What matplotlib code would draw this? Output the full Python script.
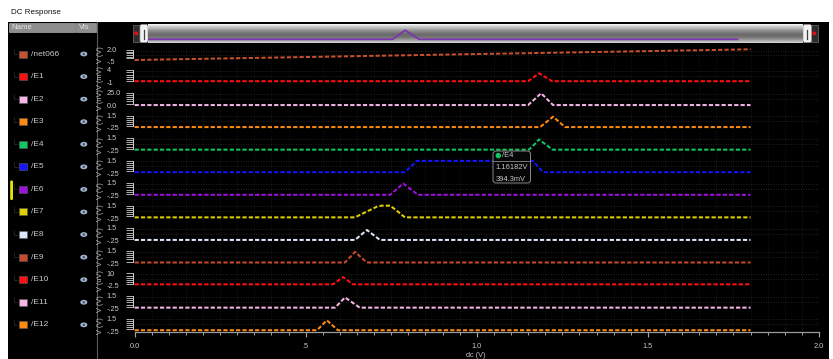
import numpy as np
import matplotlib
matplotlib.use("Agg")
import matplotlib.pyplot as plt
import matplotlib.transforms as mtransforms
from matplotlib.patches import Rectangle, FancyBboxPatch, Ellipse, Circle
from matplotlib.ticker import FixedLocator, MultipleLocator

plt.rcParams['font.family'] = ['Liberation Sans', 'DejaVu Sans']

# ---------------------------------------------------------------- data
names = ["/net066", "/E1", "/E2", "/E3", "/E4", "/E5", "/E6",
         "/E7", "/E8", "/E9", "/E10", "/E11", "/E12"]
colors = ["#c8502e", "#ff1010", "#f5b5e6", "#ff8a10", "#10c860", "#1414ff",
          "#a010e0", "#e0d000", "#dde8f8", "#c84a2c", "#ff1010", "#f5b5e6",
          "#ff8a10"]
units = ["V (V)", "V (mV)", "V (nV)", "V (V)", "V (V)", "V (V)", "V (V)",
         "V (V)", "V (V)", "V (V)", "V (uV)", "V (V)", "V (V)"]
tick_lo = [-0.5, -1.0, 0.0, -0.25, -0.25, -0.25, -0.25,
           -0.25, -0.25, -0.25, -2.5, -0.25, -0.25]
tick_hi = [2.0, 4.0, 25.0, 1.5, 1.5, 1.5, 1.5,
           1.5, 1.5, 1.5, 10.0, 1.5, 1.5]
tick_lo_text = ["-.5", "-1", "0.0", "-.25", "-.25", "-.25", "-.25",
                "-.25", "-.25", "-.25", "-2.5", "-.25", "-.25"]
tick_hi_text = ["2.0", "4", "25.0", "1.5", "1.5", "1.5", "1.5",
                "1.5", "1.5", "1.5", "10", "1.5", "1.5"]

net066_x = [0.0, 0.45, 0.9, 1.35, 1.8]
net066_y = [0.06, 0.62, 1.18, 1.73, 2.29]
E1_x = [0.0, 1.150, 1.182, 1.220, 1.8]
E1_y = [0.0, 0.0, 3.1, 0.0, 0.0]
E2_x = [0.0, 1.150, 1.188, 1.223, 1.8]
E2_y = [2.5, 2.5, 25.5, 2.5, 2.5]
E3_x = [0.0, 1.185, 1.223, 1.258, 1.8]
E3_y = [0.0, 0.0, 1.42, 0.0, 0.0]
E4_mark_x, E4_mark_y = 1.16182, 0.3943
E4_x = [0.0, 1.152, E4_mark_x, 1.182, 1.221, 1.8]
E4_y = [0.0, 0.0, E4_mark_y, 1.40, 0.0, 0.0]
E5_x = [0.0, 0.790, 0.825, 1.164, 1.194, 1.8]
E5_y = [0.0, 0.0, 1.55, 1.55, 0.0, 0.0]
E6_x = [0.0, 0.747, 0.785, 0.828, 1.8]
E6_y = [0.0, 0.0, 1.55, 0.0, 0.0]
E7_x = [0.0, 0.644, 0.678, 0.708, 0.722, 0.747, 0.766, 0.790, 1.8]
E7_y = [0.0, 0.0, 0.78, 1.46, 1.6, 1.6, 0.92, 0.0, 0.0]
E8_x = [0.0, 0.644, 0.679, 0.717, 1.8]
E8_y = [0.0, 0.0, 1.36, 0.0, 0.0]
E9_x = [0.0, 0.615, 0.644, 0.679, 1.8]
E9_y = [0.0, 0.0, 1.45, 0.0, 0.0]
E10_x = [0.0, 0.580, 0.609, 0.638, 1.8]
E10_y = [0.0, 0.0, 7.1, 0.0, 0.0]
E11_x = [0.0, 0.586, 0.615, 0.658, 1.8]
E11_y = [0.0, 0.0, 1.4, 0.0, 0.0]
E12_x = [0.0, 0.533, 0.562, 0.594, 1.8]
E12_y = [0.0, 0.0, 1.35, 0.0, 0.0]

traces_x = [net066_x, E1_x, E2_x, E3_x, E4_x, E5_x, E6_x,
            E7_x, E8_x, E9_x, E10_x, E11_x, E12_x]
traces_y = [net066_y, E1_y, E2_y, E3_y, E4_y, E5_y, E6_y,
            E7_y, E8_y, E9_y, E10_y, E11_y, E12_y]

x_ticks = [0.0, 0.5, 1.0, 1.5, 2.0]
x_tick_text = ["0.0", ".5", "1.0", "1.5", "2.0"]
x_label = "dc (V)"
selected = 6  # trace shown in the overview strip

# ---------------------------------------------------------------- layout
W, H = 833, 359
fig = plt.figure(figsize=(W / 100, H / 100), dpi=100)
fig.patch.set_facecolor("white")


def px_axes(x0, y0, x1, y1, z=1):
    ax = fig.add_axes([x0 / W, 1 - y1 / H, (x1 - x0) / W, (y1 - y0) / H])
    ax.set_zorder(z)
    return ax


bg = px_axes(0, 0, W, H, z=0)
bg.set_xlim(0, W)
bg.set_ylim(H, 0)
bg.axis("off")

TXT = "#c8c8c8"
# window title and panes
bg.add_patch(Rectangle((0, 0), W, 22, facecolor="white", edgecolor="none"))
bg.text(11, 13, "DC Response", fontsize=5.8, color="#101010", va="center")
bg.add_patch(Rectangle((8, 22), 89, H - 22, facecolor="black", edgecolor="none"))
bg.add_patch(Rectangle((97, 22), 732, H - 22, facecolor="black", edgecolor="none"))
bg.add_patch(Rectangle((9, 22.5), 66.5, 9.5, facecolor="#8e8e8e", edgecolor="#a8a8a8", lw=0.5))
bg.add_patch(Rectangle((76, 22.5), 20.5, 9.5, facecolor="#8e8e8e", edgecolor="#a8a8a8", lw=0.5))
bg.text(11, 27.3, "Name", fontsize=5.6, color="#e4e4e4", va="center")
bg.text(79, 27.3, "Vis", fontsize=5.6, color="#e4e4e4", va="center")
bg.plot([97, 97], [22, H], color="#5c5c5c", lw=0.8)

X0_PX, X1_PX = 132.5, 819.0
XMIN, XMAX = -0.006, 2.0
TOP0, PITCH = 44.9, 22.57
AXIS_Y = 332.0
label_offsets = [(5.8, 17.8)] + [(3.5, 16.3)] * 12

# overview / scroll bar
sb = px_axes(148, 24, 803, 43, z=2)
grad = np.array([0.95, 0.84, 0.76, 0.70, 0.62, 0.55, 0.49, 0.45, 0.42,
                 0.43, 0.47, 0.53, 0.60, 0.70, 0.82])[:, None]
sb.imshow(grad, cmap="gray", vmin=0, vmax=1, aspect="auto",
          extent=[0, 2.0, -0.63, 2.61], origin="upper", zorder=0)
sb.plot(traces_x[selected], traces_y[selected], color="#7b35b0", lw=1.3, zorder=2)
sb.set_xlim(0, 2.0)
sb.set_ylim(-0.63, 2.61)
sb.axis("off")
for (x0, w) in [(133, 7), (811, 7)]:
    bg.add_patch(Rectangle((x0, 25), w, 17, facecolor="#2c2c2c", edgecolor="#707070", lw=0.5))
for (x0, w) in [(140, 8), (803, 8.5)]:
    bg.add_patch(FancyBboxPatch((x0, 24.5), w, 18, boxstyle="round,pad=0,rounding_size=2",
                                facecolor="#f2f2f2", edgecolor="#9a9a9a", lw=0.5, zorder=3))
    bg.plot([x0 + w / 2, x0 + w / 2], [29.5, 38.5], color="#404040", lw=0.9, zorder=4)
bg.add_patch(Circle((136.3, 33.4), 1.3, color="#e01010", zorder=4))
bg.add_patch(Circle((814.3, 33.4), 1.3, color="#e01010", zorder=4))

for i in range(13):
    top = TOP0 + PITCH * i
    bot = min(top + PITCH, AXIS_Y)
    ax = px_axes(X0_PX, top, X1_PX, bot, z=1)
    ax.set_facecolor("none")
    hi_off, lo_off = label_offsets[i]
    lo, hi = tick_lo[i], tick_hi[i]
    s = (lo_off - hi_off) / (hi - lo)
    ax.set_ylim(lo - (bot - top - lo_off) / s, hi + hi_off / s)
    ax.set_xlim(XMIN, XMAX)
    for sp in ["top", "right", "bottom"]:
        ax.spines[sp].set_visible(False)
    # ruler of short ticks
    v_ruler_lo = hi - (13.5 - hi_off) / s
    ruler = list(np.linspace(v_ruler_lo, hi + 0.6 / s, 6))
    ax.spines["left"].set_bounds(v_ruler_lo, hi + 0.6 / s)
    ax.spines["left"].set_color("#d0d0d0")
    ax.spines["left"].set_linewidth(0.7)
    ax.yaxis.set_major_locator(FixedLocator([]))
    ax.yaxis.set_minor_locator(FixedLocator(ruler))
    ax.tick_params(axis="y", which="minor", length=5.2, width=0.6, color="#d0d0d0")
    ax.set_xticks([])
    # faint background grid
    for gv in [hi, (hi + v_ruler_lo) / 2]:
        ax.axhline(gv, color="#2c2c2c", lw=0.6, ls=(0, (1, 2)), zorder=0)
    ax.plot(traces_x[i], traces_y[i], color=colors[i], lw=1.45,
            ls=(0, (2.1, 1.05)), zorder=3)
    tr = mtransforms.blended_transform_factory(bg.transData, ax.transData)
    bg.text(106.5, hi, tick_hi_text[i], transform=tr, fontsize=5.3, color=TXT,
            ha="left", va="center")
    t_lo = bg.text(106.5, lo, tick_lo_text[i], transform=tr, fontsize=5.3, color=TXT,
                   ha="left", va="center")
    t_lo.set_clip_path(Rectangle((0, 0), W, AXIS_Y, transform=bg.transData))
    # unit label, left list entry
    yc = TOP0 + PITCH * i + 10
    bg.text(100.3, yc, units[i], fontsize=5.3, color="#b8b8b8", rotation=90,
            ha="center", va="center")
    yr = TOP0 + PITCH * i + 9.1
    bg.plot([14, 14, 18], [yr - 5, yr, yr], color="#5a5a5a", lw=0.5, ls=(0, (1, 1)))
    bg.add_patch(Rectangle((19, yr - 3.5), 8, 7, facecolor=colors[i],
                           edgecolor="#5a5a5a", lw=0.4))
    bg.text(31.5, yr, names[i], fontsize=6, color=TXT, va="center")
    bg.add_patch(Ellipse((83.8, yr), 7, 4.8, facecolor="#a4b8d2", edgecolor="none"))
    bg.add_patch(Circle((83.8, yr), 1.3, facecolor="#4a5a72", edgecolor="none"))

# selection marker
bg.add_patch(FancyBboxPatch((10.2, 180.5), 2.8, 19.5, boxstyle="round,pad=0,rounding_size=1.2",
                            facecolor="#e8e400", edgecolor="none"))

# common x axis
xa = px_axes(X0_PX, TOP0, X1_PX, AXIS_Y, z=0.5)
xa.set_facecolor("none")
xa.set_xlim(XMIN, XMAX)
xa.set_yticks([])
for sp in ["top", "right", "left"]:
    xa.spines[sp].set_visible(False)
xa.spines["bottom"].set_color("#9a9a9a")
xa.spines["bottom"].set_linewidth(0.9)
xa.spines["bottom"].set_bounds(0, 2.0)
xa.set_xticks(x_ticks)
xa.set_xticklabels(x_tick_text)
xa.xaxis.set_minor_locator(MultipleLocator(0.05))
xa.tick_params(axis="x", which="major", length=3.6, width=0.8, color="#a8a8a8",
               labelsize=5.3, labelcolor=TXT, pad=4.3)
xa.tick_params(axis="x", which="minor", length=2.4, width=0.7, color="#a8a8a8")
xa.grid(True, which="minor", axis="x", color="#202020", lw=0.5, ls=(0, (1, 2)))
xa.set_xlabel(x_label, fontsize=5.3, color=TXT, labelpad=1.2)

# cursor readout
top_ax = px_axes(0, 0, W, H, z=5)
top_ax.set_xlim(0, W)
top_ax.set_ylim(H, 0)
top_ax.axis("off")
top_ax.add_patch(FancyBboxPatch((493, 151), 37.5, 32, boxstyle="round,pad=0,rounding_size=3",
                                facecolor="#060606", edgecolor="#8a8a8a", lw=0.7))
top_ax.add_patch(Circle((498.3, 155.6), 2.0, color=colors[4]))
top_ax.text(502.5, 155.6, names[4], fontsize=5.4, color=TXT, va="center")
top_ax.plot([493, 530.5], [160.8, 160.8], color="#8a8a8a", lw=0.6)
top_ax.text(495.5, 167.2, f"{E4_mark_x:.5f}V", fontsize=5.4, color=TXT, va="center")
top_ax.text(495.5, 179.2, f"{E4_mark_y * 1000:.1f}mV", fontsize=5.4, color=TXT, va="center")

fig.savefig("out.png", dpi=100, facecolor=fig.get_facecolor())
